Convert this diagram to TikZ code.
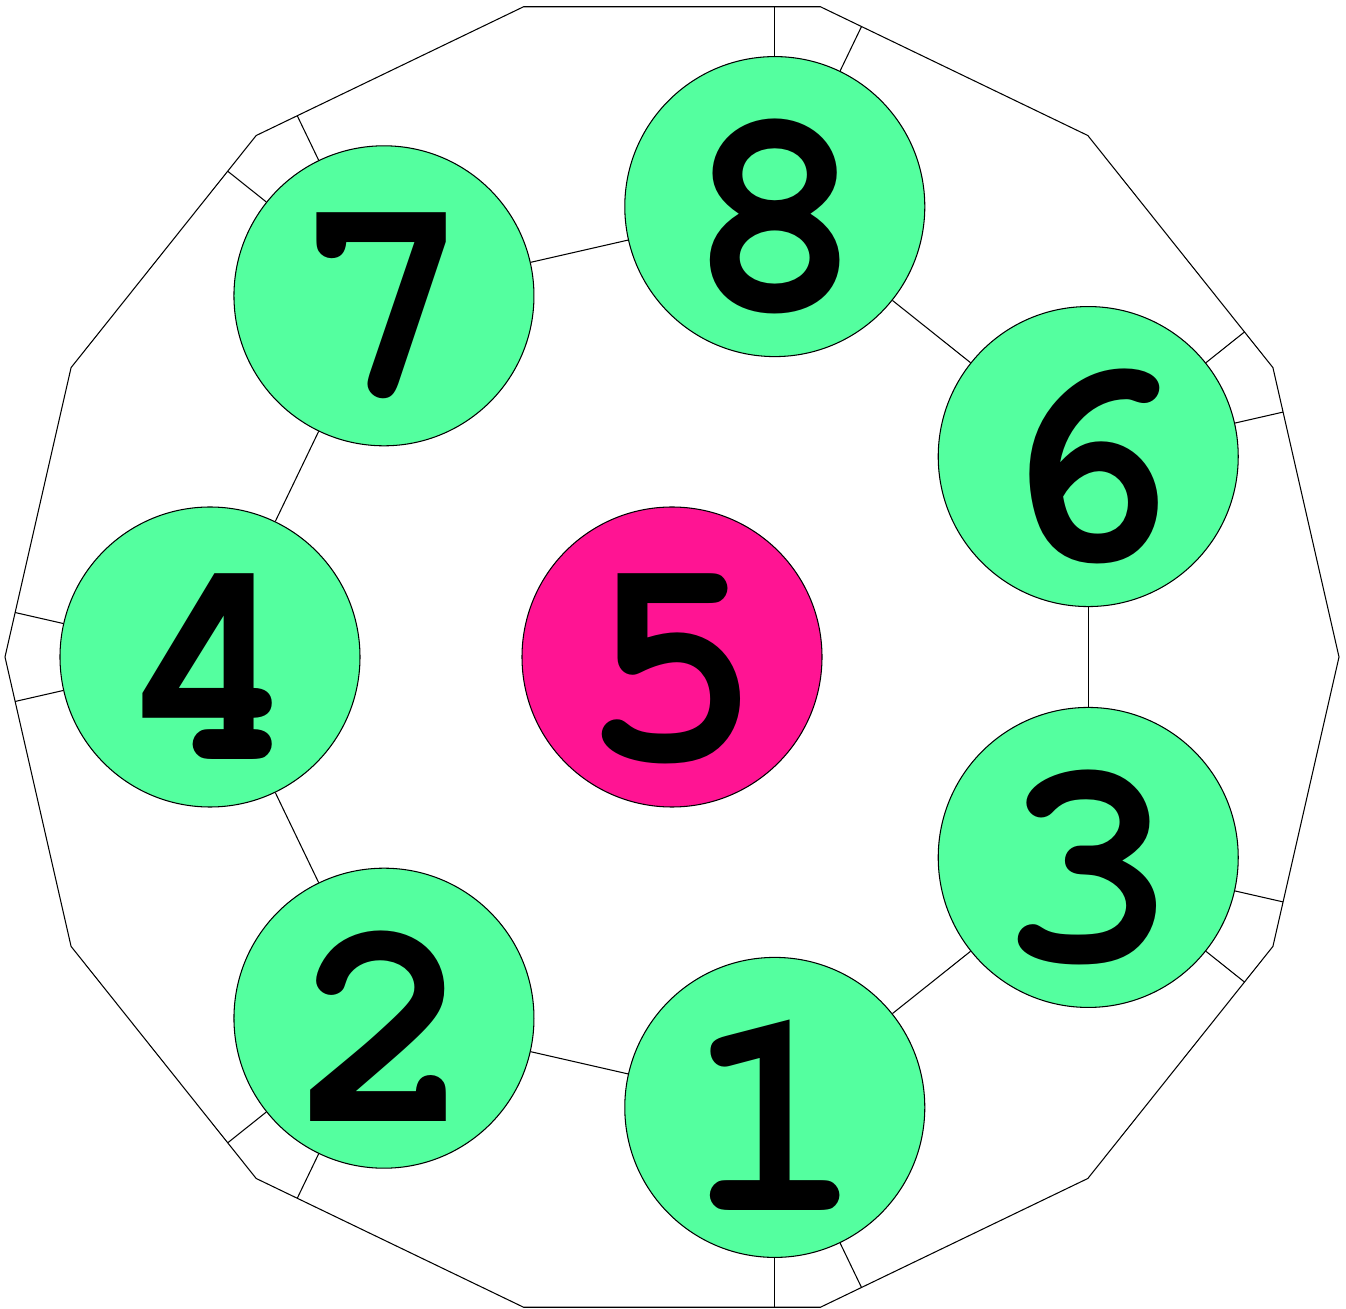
\documentclass[tikz,border=0pt]{standalone}
\usepackage{tikz}
\newcommand{\ziffern}{\fontencoding{T1}\fontfamily{pcr}\bfseries\fontsize{85}{85}\selectfont}
\definecolor{mygreen}{RGB}{84,255,159}
\definecolor{mypink}{RGB}{255,20,147}

\begin{document}
\begin{tikzpicture}[x=10mm, y=10mm, line width=0.3pt,
		kreis/.style={circle, draw=black, fill=mygreen, minimum size=30mm, inner sep=0pt,
			font=\ziffern, text height=20.6mm, text depth=0mm}]
				\useasboundingbox (-6.72,-6.51) rectangle (6.74,6.57);
				% Vierzehneck zeichnen
				\draw (0:6.67) \foreach \k in {1,...,13} {-- ({\k*360/14}:6.67)} -- cycle;
				% Kreise zeichnen
				\foreach \k/\z in {1/6,3/8,5/7,7/4,9/2,11/1,13/3}
					\node[kreis] (n\z) at ({\k*360/14}:4.62) {\z};
				\node[kreis, fill=mypink] (n5) at (0,0) {5};
				% Verbindungen
				\foreach \a/\b in {6/8,8/7,7/4,4/2,2/1,1/3,3/6} \draw (n\a) -- (n\b);
				% Stege zum Rand
				\foreach \k/\z in {1/6,3/8,5/7,7/4,9/2,11/1,13/3} {
					\path (n\z.center) ++({\k*360/14+180/14}:1.999) coordinate (t\z-a);
					\path (n\z.center) ++({\k*360/14-180/14}:1.999) coordinate (t\z-b);
					\draw (n\z) -- (t\z-a);
					\draw (n\z) -- (t\z-b);
				}
		\end{tikzpicture}
\end{document}
